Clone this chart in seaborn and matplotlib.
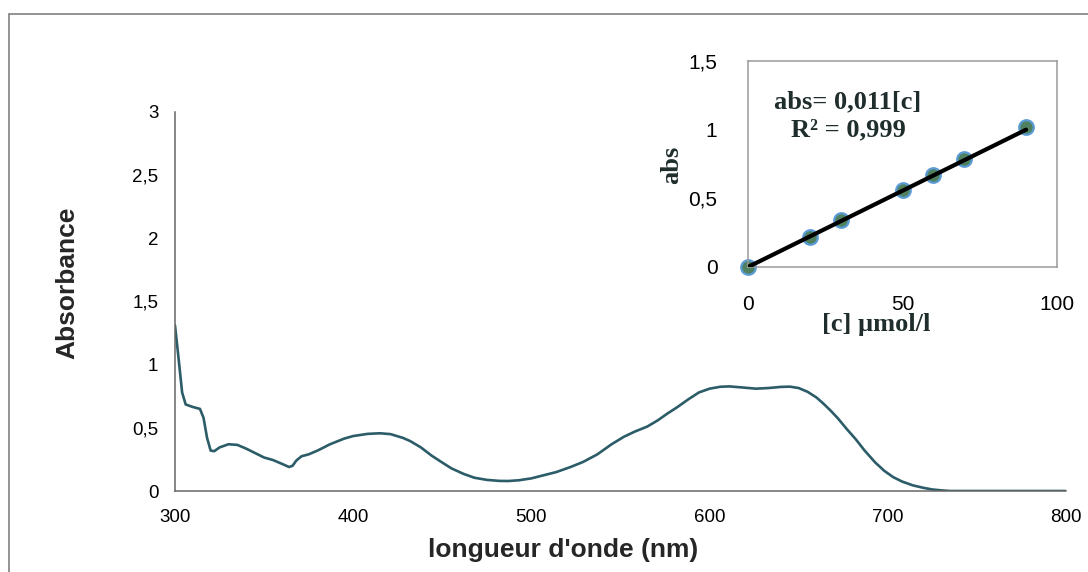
import matplotlib
matplotlib.use("Agg")
import matplotlib.pyplot as plt
from matplotlib.patches import Rectangle
import seaborn as sns
import pandas as pd

# spectre d'absorption
wavelength = [300, 302, 304, 306, 310, 314, 316, 318, 320, 322, 325, 330, 335, 340,
              345, 350, 355, 360, 364, 366, 368, 371, 375, 380, 387, 395, 400, 408,
              415, 421, 428, 432, 438, 444, 450, 455, 462, 468, 475, 482, 487, 493,
              500, 507, 514, 522, 529, 537, 545, 552, 558, 565, 571, 576, 582, 588,
              594, 600, 606, 611, 618, 626, 633, 640, 645, 650, 655, 660, 664, 668,
              672, 677, 682, 687, 693, 698, 703, 708, 714, 720, 725, 730, 735, 750,
              775, 800]
absorbance = [1.31, 1.05, 0.78, 0.685, 0.665, 0.65, 0.58, 0.42, 0.32, 0.315, 0.345,
              0.37, 0.365, 0.335, 0.30, 0.265, 0.245, 0.215, 0.19, 0.20, 0.24, 0.275,
              0.29, 0.32, 0.37, 0.415, 0.435, 0.452, 0.457, 0.45, 0.42, 0.395, 0.345,
              0.28, 0.225, 0.18, 0.135, 0.105, 0.088, 0.08, 0.079, 0.085, 0.10, 0.125,
              0.15, 0.19, 0.23, 0.29, 0.37, 0.43, 0.47, 0.51, 0.56, 0.61, 0.665, 0.725,
              0.78, 0.81, 0.825, 0.828, 0.82, 0.81, 0.815, 0.824, 0.826, 0.815, 0.785,
              0.74, 0.69, 0.635, 0.575, 0.49, 0.41, 0.32, 0.225, 0.16, 0.11, 0.075,
              0.045, 0.025, 0.012, 0.005, 0.0, 0.0, 0.0, 0.0]

x_ticks = [300, 400, 500, 600, 700, 800]
x_ticklabels = ["300", "400", "500", "600", "700", "800"]
y_ticks = [0, 0.5, 1, 1.5, 2, 2.5, 3]
y_ticklabels = ["0", "0,5", "1", "1,5", "2", "2,5", "3"]

# courbe d'etalonnage
conc = [0, 20, 30, 50, 60, 70, 90]
abs_calib = [0.0, 0.22, 0.34, 0.56, 0.67, 0.79, 1.02]
trend_x = [0, 90]
trend_y = [0.0, 1.0]
inset_xticks = [0, 50, 100]
inset_xticklabels = ["0", "50", "100"]
inset_yticks = [0, 0.5, 1, 1.5]
inset_yticklabels = ["0", "0,5", "1", "1,5"]

sns.set_style("white")
plt.rcParams["font.family"] = ["Liberation Sans", "DejaVu Sans"]

spectrum = pd.DataFrame({"wl": wavelength, "A": absorbance})
calib = pd.DataFrame({"c": conc, "abs": abs_calib})
trend = pd.DataFrame({"c": trend_x, "abs": trend_y})

fig = plt.figure(figsize=(10.88, 5.72), dpi=100)
fig.patches.append(Rectangle((9 / 1088, -0.05), 1.05, 1 - 14 / 572 + 0.05,
                             transform=fig.transFigure, fill=False,
                             edgecolor="#808080", linewidth=1.2))

# Plot principal
ax = fig.add_axes([175 / 1088, 81 / 572, 891 / 1088, 379 / 572])
sns.lineplot(data=spectrum, x="wl", y="A", ax=ax, color="#2b5c68", linewidth=1.9,
             sort=False)
ax.set_xlim(300, 800)
ax.set_ylim(0, 3)
ax.set_xticks(x_ticks)
ax.set_xticklabels(x_ticklabels)
ax.set_yticks(y_ticks)
ax.set_yticklabels(y_ticklabels)
for s in ["top", "right"]:
    ax.spines[s].set_visible(False)
for s in ["left", "bottom"]:
    ax.spines[s].set_color("#666666")
    ax.spines[s].set_linewidth(1.1)
ax.tick_params(axis="both", direction="out", length=4, width=1, color="#666666",
               labelsize=13.5, labelcolor="black")
ax.tick_params(axis="x", pad=9)
ax.tick_params(axis="y", pad=8)
ax.set_xlabel("longueur d'onde (nm)", fontsize=19, fontweight="bold")
ax.set_ylabel("Absorbance", fontsize=19, fontweight="bold")
ax.xaxis.set_label_coords(0.4355, -0.125)
ax.yaxis.set_label_coords(-0.107, 0.549)

# Encart : courbe d'etalonnage
ins = fig.add_axes([748 / 1088, 305 / 572, 309 / 1088, 206 / 572])
sns.scatterplot(data=calib, x="c", y="abs", ax=ins, s=110, color="#4f8060",
                edgecolor="#5b9bd5", linewidth=1.6, zorder=2, clip_on=False)
sns.lineplot(data=trend, x="c", y="abs", ax=ins, color="black", linewidth=3,
             zorder=3)
ins.set_xlim(0, 100)
ins.set_ylim(0, 1.5)
ins.set_xticks(inset_xticks)
ins.set_xticklabels(inset_xticklabels)
ins.set_yticks(inset_yticks)
ins.set_yticklabels(inset_yticklabels)
for s in ins.spines.values():
    s.set_color("#9a9a9a")
    s.set_linewidth(1.1)
ins.tick_params(axis="both", direction="out", length=4, width=1, color="#9a9a9a",
                labelsize=15, labelcolor="black")
ins.tick_params(axis="x", pad=16)
ins.tick_params(axis="y", pad=18)
serif = ["Liberation Serif", "DejaVu Serif"]
ins.set_xlabel("[c] µmol/l", fontsize=19, fontweight="bold", family=serif,
               color="#1f2d2d")
ins.set_ylabel("abs", fontsize=19, fontweight="bold", family=serif, color="#1f2d2d")
ins.xaxis.set_label_coords(0.414, -0.225)
ins.yaxis.set_label_coords(-0.21, 0.495)
ins.text(0.324, 0.80, "abs= 0,011[c]", transform=ins.transAxes, ha="center",
         va="center", fontsize=19, fontweight="bold", family=serif, color="#1f2d2d")
ins.text(0.324, 0.665, "R² = 0,999", transform=ins.transAxes, ha="center",
         va="center", fontsize=19, fontweight="bold", family=serif, color="#1f2d2d")

fig.savefig("out.png", dpi=100)
plt.close(fig)
